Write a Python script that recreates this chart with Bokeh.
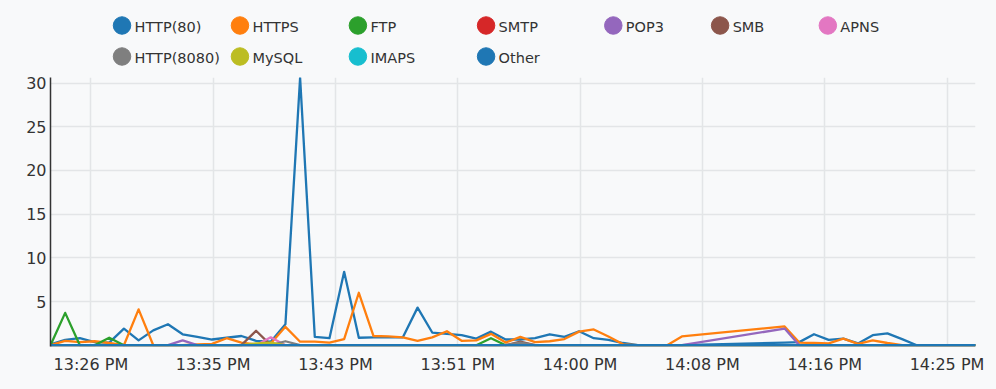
from bokeh.plotting import figure
from bokeh.models import FixedTicker, Range1d
from bokeh.layouts import column
from bokeh.core.properties import value
from bokeh.embed import file_html
from bokeh.resources import INLINE

# ---- data -------------------------------------------------------------
# minutes after 13:00 (no samples between 14:07 and 14:14)
minutes = [24, 25, 26, 27, 28, 29, 30, 31, 32, 33,
           34, 35, 36, 37, 38, 39, 40, 41, 42, 43,
           44, 45, 46, 47, 48, 49, 50, 51, 52, 53,
           54, 55, 56, 57, 58, 59, 60, 61, 62, 63,
           64, 65, 66, 67,
           74, 75, 76, 77, 78, 79, 80, 81, 82, 83, 84, 85, 86, 87]

tick_minutes = [26.75, 35.08, 43.41, 51.74, 60.07, 68.4, 76.73, 85.06]
tick_labels = ["13:26 PM", "13:35 PM", "13:43 PM", "13:51 PM",
               "14:00 PM", "14:08 PM", "14:16 PM", "14:25 PM"]
y_ticks = [5, 10, 15, 20, 25, 30]

series_names = ["HTTP(80)", "HTTPS", "FTP", "SMTP", "POP3", "SMB", "APNS",
                "HTTP(8080)", "MySQL", "IMAPS", "Other"]
series_colors = ["#1f77b4", "#ff7f0e", "#2ca02c", "#d62728", "#9467bd", "#8c564b",
                 "#e377c2", "#7f7f7f", "#bcbd22", "#17becf", "#1f77b4"]

http80 = [0.1, 0.6, 0.8, 0.35, 0.3, 1.9, 0.55, 1.7, 2.4, 1.25,
          0.95, 0.65, 0.85, 1.05, 0.5, 0.4, 2.4, 30.6, 0.95, 0.8,
          8.4, 0.85, 0.9, 0.9, 0.9, 4.3, 1.45, 1.3, 1.15, 0.75,
          1.55, 0.65, 0.65, 0.8, 1.25, 0.95, 1.6, 0.8, 0.6, 0.25,
          0, 0, 0, 0,
          0.3, 0.35, 1.25, 0.6, 0.75, 0.2, 1.15, 1.35, 0.7, 0, 0, 0, 0, 0]
https = [0, 0.5, 0.35, 0.45, 0.25, 0, 4.1, 0, 0, 0,
         0.1, 0.15, 0.8, 0.3, 0.1, 0.2, 2.1, 0.4, 0.4, 0.3,
         0.7, 6.0, 1.05, 1.0, 0.9, 0.5, 0.9, 1.6, 0.5, 0.55,
         1.3, 0.3, 0.95, 0.35, 0.45, 0.7, 1.55, 1.8, 1.0, 0.1,
         0, 0, 0, 1.0,
         2.15, 0.3, 0.25, 0.2, 0.75, 0.15, 0.55, 0.25, 0, 0, 0, 0, 0, 0]
ftp = [0, 3.7, 0, 0, 0.85, 0, 0, 0, 0, 0,
       0, 0, 0, 0, 0, 0, 0, 0, 0, 0,
       0, 0, 0, 0, 0, 0, 0, 0, 0, 0,
       0.8, 0, 0, 0, 0, 0, 0, 0, 0, 0,
       0, 0, 0, 0,
       0, 0, 0, 0, 0, 0, 0, 0, 0, 0, 0, 0, 0, 0]
smtp = [0, 0, 0, 0, 0, 0, 0, 0, 0, 0,
        0, 0, 0, 0, 0, 0, 0, 0, 0, 0,
        0, 0, 0, 0, 0, 0, 0, 0, 0, 0,
        0, 0, 0, 0, 0, 0, 0, 0, 0, 0,
        0, 0, 0, 0,
        0, 0, 0, 0, 0, 0, 0, 0, 0, 0, 0, 0, 0, 0]
pop3 = [0, 0, 0, 0, 0, 0, 0, 0, 0, 0.55,
        0, 0, 0, 0, 0, 0, 0, 0, 0, 0,
        0, 0, 0, 0, 0, 0, 0, 0, 0, 0,
        0, 0, 0, 0, 0, 0, 0, 0, 0, 0,
        0, 0, 0, 0,
        1.9, 0, 0, 0, 0, 0, 0, 0, 0, 0, 0, 0, 0, 0]
smb = [0, 0, 0, 0, 0, 0, 0, 0, 0, 0,
       0, 0, 0, 0, 1.65, 0, 0, 0, 0, 0,
       0, 0, 0, 0, 0, 0, 0, 0, 0, 0,
       0, 0, 0.4, 0, 0, 0, 0, 0, 0, 0,
       0, 0, 0, 0,
       0, 0, 0, 0, 0, 0, 0, 0, 0, 0, 0, 0, 0, 0]
apns = [0, 0, 0, 0, 0, 0, 0, 0, 0, 0,
        0, 0, 0, 0, 0, 0.9, 0, 0, 0, 0,
        0, 0, 0, 0, 0, 0, 0, 0, 0, 0,
        0, 0, 0, 0, 0, 0, 0, 0, 0, 0,
        0, 0, 0, 0,
        0, 0, 0, 0, 0, 0, 0, 0, 0, 0, 0, 0, 0, 0]
http8080 = [0, 0, 0, 0, 0, 0, 0, 0, 0, 0,
            0, 0, 0, 0, 0, 0, 0.45, 0, 0, 0,
            0, 0, 0, 0, 0, 0, 0, 0, 0, 0,
            0, 0, 0.3, 0, 0, 0, 0, 0, 0, 0,
            0, 0, 0, 0,
            0, 0, 0, 0, 0, 0, 0, 0, 0, 0, 0, 0, 0, 0]
mysql = [0, 0, 0, 0, 0, 0, 0, 0, 0, 0,
         0, 0, 0, 0, 0.2, 0.3, 0, 0, 0, 0,
         0, 0, 0, 0, 0, 0, 0, 0, 0, 0,
         0, 0, 0, 0, 0, 0, 0, 0, 0, 0,
         0, 0, 0, 0,
         0, 0, 0, 0, 0, 0, 0, 0, 0, 0, 0, 0, 0, 0]
imaps = [0, 0, 0, 0, 0, 0, 0, 0, 0, 0,
         0, 0, 0, 0, 0, 0, 0, 0, 0, 0,
         0, 0, 0, 0, 0, 0, 0, 0, 0, 0,
         0, 0, 0, 0, 0, 0, 0, 0, 0, 0,
         0, 0, 0, 0,
         0, 0, 0, 0, 0, 0, 0, 0, 0, 0, 0, 0, 0, 0]
other = [0, 0, 0, 0, 0, 0, 0, 0, 0, 0,
         0, 0, 0, 0, 0, 0, 0, 0, 0, 0,
         0, 0, 0, 0, 0, 0, 0, 0, 0, 0,
         0, 0, 0, 0, 0, 0, 0, 0, 0, 0,
         0, 0, 0, 0,
         0, 0, 0, 0, 0, 0, 0, 0, 0, 0, 0, 0, 0, 0]

series_values = [http80, https, ftp, smtp, pop3, smb, apns,
                 http8080, mysql, imaps, other]

# ---- style / layout ----------------------------------------------------
BG = "#f8f9fa"
GRID = "#e3e5e7"
TXT = "#333333"
FONT = "DejaVu Sans"
W = 996
LEG_H = 70
MAIN_H = 319

# ---- legend strip (layout: 7 columns x 2 rows, item slots in pixels) ----
leg_col_x = [77, 204, 331, 469, 606, 721, 837]   # circle centres per column
leg_row_y = [25, 56]
n_cols = len(leg_col_x)
slot_x = [leg_col_x[i % n_cols] for i in range(len(series_names))]
slot_y = [leg_row_y[i // n_cols] for i in range(len(series_names))]

leg = figure(width=W, height=LEG_H, output_backend="svg", toolbar_location=None,
             x_range=Range1d(0, W), y_range=Range1d(LEG_H, 0),
             x_axis_location=None, y_axis_location=None,
             min_border=0, min_border_left=0, min_border_right=0,
             min_border_top=0, min_border_bottom=0)
leg.background_fill_color = BG
leg.border_fill_color = BG
leg.outline_line_color = None
leg.grid.visible = False
leg.scatter(slot_x, slot_y, marker="circle", size=17.5,
            fill_color=series_colors, line_color=series_colors)
leg.text([x + 13.5 for x in slot_x], [y + 1 for y in slot_y], text=series_names,
         text_font=value(FONT), text_font_size="14.5px", text_color=TXT,
         text_baseline="middle", text_align="left")

# ---- main chart ---------------------------------------------------------
p = figure(width=W, height=MAIN_H, output_backend="svg", toolbar_location=None,
           x_range=Range1d(24, 87), y_range=Range1d(-0.15, 30.64),
           min_border_left=50, min_border_right=21,
           min_border_top=7, min_border_bottom=43)
p.background_fill_color = BG
p.border_fill_color = BG
p.outline_line_color = None

for vals, col in zip(series_values, series_colors):
    p.line(minutes, vals, line_color=col, line_width=2.3, line_join="round")

p.xaxis.ticker = FixedTicker(ticks=tick_minutes)
p.xaxis.major_label_overrides = {t: l for t, l in zip(tick_minutes, tick_labels)}
p.xaxis.axis_line_color = None
p.xaxis.major_tick_line_color = None
p.xaxis.minor_tick_line_color = None
p.xaxis.major_tick_out = 0
p.xaxis.major_tick_in = 0
p.xaxis.major_label_standoff = 8

p.yaxis.ticker = FixedTicker(ticks=y_ticks)
p.yaxis.axis_line_color = "#333333"
p.yaxis.axis_line_width = 1.5
p.yaxis.major_tick_line_color = None
p.yaxis.minor_tick_line_color = None
p.yaxis.major_tick_out = 0
p.yaxis.major_tick_in = 0
p.yaxis.major_label_standoff = 4

for ax in (p.xaxis, p.yaxis):
    ax.major_label_text_font = FONT
    ax.major_label_text_font_size = "16px"
    ax.major_label_text_color = TXT

p.xgrid.ticker = FixedTicker(ticks=tick_minutes)
p.ygrid.ticker = FixedTicker(ticks=y_ticks)
p.xgrid.grid_line_color = GRID
p.ygrid.grid_line_color = GRID
p.xgrid.grid_line_width = 1.5
p.ygrid.grid_line_width = 1.5

layout = column(leg, p, spacing=0, styles={"background-color": BG})
open("out.html", "w").write(file_html(layout, INLINE))
